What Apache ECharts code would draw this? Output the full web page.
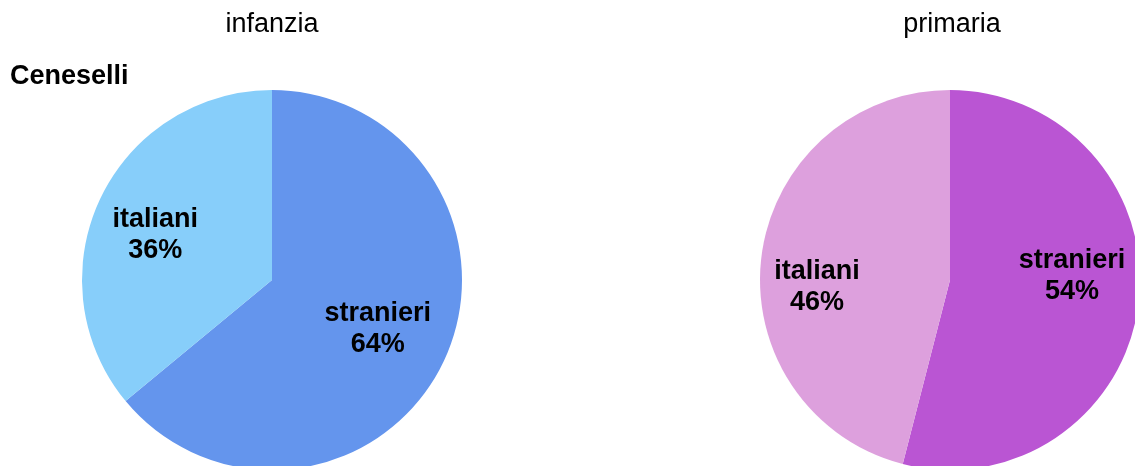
<!DOCTYPE html>
<html>
<head>
<meta charset="utf-8">
<script src="https://cdn.jsdelivr.net/npm/echarts@6/dist/echarts.min.js"></script>
<style>
  html, body { margin: 0; padding: 0; background: #fff; }
  #chart { width: 1135px; height: 466px; }
</style>
</head>
<body>
<div id="chart"></div>
<script>
// categories and shares (%)
const categories = ['stranieri', 'italiani'];
const infanziaValues = [64, 36];
const primariaValues = [54, 46];
const infanziaColors = ['#6495ED', '#87CEFA'];
const primariaColors = ['#BA55D3', '#DDA0DD'];

// small nudges so the labels sit where the original tool put them
const labelNudge = {
  2: [[-11, -6], [0, 10]],
  3: [[-6, -20], [-5, 23]]
};

const font = 'Liberation Sans, Arial, sans-serif';

const toData = (values, colors) =>
  categories.map((name, i) => ({ name, value: values[i], itemStyle: { color: colors[i] } }));

// the filled pie, no labels
const pieSeries = (center, values, colors) => ({
  type: 'pie',
  center: center,
  radius: 190,
  startAngle: 90,
  clockwise: true,
  silent: true,
  animation: false,
  label: { show: false },
  labelLine: { show: false },
  data: toData(values, colors)
});

// transparent bigger pie only to push the inside labels outwards
const labelSeries = (center, values) => ({
  type: 'pie',
  center: center,
  radius: 252,
  startAngle: 90,
  clockwise: true,
  silent: true,
  animation: false,
  itemStyle: { color: 'rgba(0,0,0,0)' },
  label: {
    show: true,
    position: 'inside',
    formatter: p => p.name + '\n' + p.value + '%',
    color: '#000',
    fontFamily: font,
    fontWeight: 'bold',
    fontSize: 27,
    lineHeight: 31,
    align: 'center'
  },
  labelLine: { show: false },
  labelLayout: p => {
    const n = (labelNudge[p.seriesIndex] || [])[p.dataIndex] || [0, 0];
    return { dx: n[0], dy: n[1] };
  },
  data: categories.map((name, i) => ({ name, value: values[i] }))
});

const chart = echarts.init(document.getElementById('chart'), null, { renderer: 'canvas' });

chart.setOption({
  backgroundColor: '#fff',
  title: [
    { text: 'infanzia', left: 272, top: 11, textAlign: 'center', padding: 0,
      textStyle: { fontFamily: font, fontWeight: 'normal', fontSize: 27, color: '#000' } },
    { text: 'primaria', left: 952, top: 11, textAlign: 'center', padding: 0,
      textStyle: { fontFamily: font, fontWeight: 'normal', fontSize: 27, color: '#000' } },
    { text: 'Ceneselli', left: 10, top: 63, padding: 0,
      textStyle: { fontFamily: font, fontWeight: 'bold', fontSize: 27, color: '#000' } }
  ],
  series: [
    pieSeries([272, 280], infanziaValues, infanziaColors),
    pieSeries([950, 280], primariaValues, primariaColors),
    labelSeries([272, 280], infanziaValues),
    labelSeries([950, 280], primariaValues)
  ]
});
</script>
</body>
</html>
